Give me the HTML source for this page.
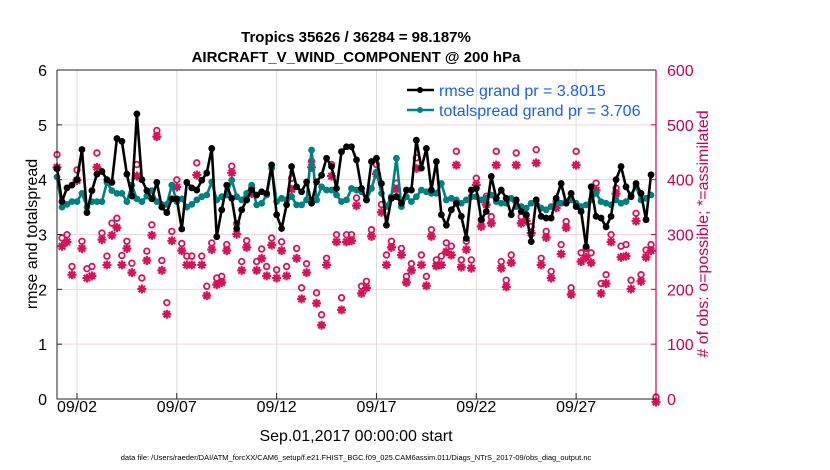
<!DOCTYPE html>
<html><head><meta charset="utf-8">
<style>
html,body{margin:0;padding:0;background:#fff;}
svg{display:block;font-family:"Liberation Sans",Arial,sans-serif;}
</style></head>
<body>
<svg id="chart" width="830" height="470" viewBox="0 0 830 470">
<text x="356" y="42" text-anchor="middle" font-size="15" font-weight="bold">Tropics 35626 / 36284 = 98.187%</text>
<text x="356" y="62" text-anchor="middle" font-size="15" font-weight="bold">AIRCRAFT_V_WIND_COMPONENT @ 200 hPa</text>
<g id="grid"></g>
<g id="obs"></g>
<g id="lines"></g>
<g id="axes"></g>
<text transform="translate(37,234) rotate(-90)" text-anchor="middle" font-size="16">rmse and totalspread</text>
<text transform="translate(708,234) rotate(-90)" text-anchor="middle" font-size="16" fill="#cc0052"># of obs: o=possible; *=assimilated</text>
<text x="356" y="441" text-anchor="middle" font-size="16">Sep.01,2017 00:00:00 start</text>
<text x="356" y="460" text-anchor="middle" font-size="7.5">data file: /Users/raeder/DAI/ATM_forcXX/CAM6_setup/f.e21.FHIST_BGC.f09_025.CAM6assim.011/Diags_NTrS_2017-09/obs_diag_output.nc</text>
<g>
<line x1="407" y1="90" x2="434" y2="90" stroke="#000" stroke-width="2.5"/>
<circle cx="420" cy="90" r="3" fill="#000"/>
<text x="439" y="96" font-size="16" fill="#1a5fe8">rmse grand pr = 3.8015</text>
<line x1="407" y1="110" x2="434" y2="110" stroke="#008080" stroke-width="2.5"/>
<circle cx="420" cy="110" r="3" fill="#008080"/>
<text x="439" y="116" font-size="16" fill="#1a5fe8">totalspread grand pr = 3.706</text>
</g>
</svg>
<script>
const xTickLabels = ["09/02","09/07","09/12","09/17","09/22","09/27"];
const xTickDays = [1,6,11,16,21,26];
const yTicksLeft = [0,1,2,3,4,5,6];
const yTicksRight = [0,100,200,300,400,500,600];
const rmse = [4.2,3.6,3.85,3.9,4.0,4.55,3.4,3.8,4.1,4.15,4.0,3.95,4.75,4.7,4.1,3.7,5.2,4.0,3.8,3.65,3.95,3.5,3.4,3.65,3.65,3.1,3.95,3.85,
3.81,3.99,4.12,4.57,2.96,3.45,3.9,3.66,3.11,3.45,3.63,3.81,3.72,3.78,3.75,4.27,3.36,3.11,3.54,4.24,3.87,3.78,3.96,3.57,3.96,4.08,4.39,4.24,3.84,4.51,4.6,
4.6,4.36,3.84,3.63,4.33,4.39,3.93,3.17,3.66,3.69,3.57,3.81,3.81,4.72,4.21,4.57,3.81,4.33,3.36,3.17,3.45,3.57,3.33,2.93,3.81,3.84,3.27,3.42,4.06,3.66,
3.81,3.66,3.36,3.63,3.42,3.36,2.87,3.63,3.33,3.3,3.3,3.66,3.93,3.57,3.75,3.51,3.42,2.78,3.87,3.33,3.3,3.14,3.33,4.0,4.24,3.87,3.69,3.93,3.75,3.27,4.09];
const spread = [4.05,3.5,3.55,3.6,3.6,3.75,3.5,3.6,3.6,3.6,3.95,3.8,3.75,3.75,3.6,3.9,3.65,3.6,3.7,3.8,3.6,3.55,3.55,3.9,3.6,3.65,3.5,3.55,
3.63,3.69,3.72,3.96,3.63,3.69,3.72,3.99,3.69,3.63,3.75,3.9,3.54,3.57,3.72,4.21,3.6,3.66,3.63,3.69,3.54,3.54,3.63,4.54,3.63,3.87,3.81,3.81,3.72,3.6,3.63,
3.84,3.81,3.78,3.63,3.84,4.14,3.75,3.51,3.69,4.39,3.51,3.69,3.6,3.69,3.81,3.78,3.75,3.75,3.93,3.63,3.66,3.63,3.57,3.63,3.69,3.69,3.63,3.66,3.72,3.6,
3.57,3.57,3.66,3.51,3.51,3.48,3.57,3.63,3.48,3.45,3.51,3.6,3.57,3.6,3.63,3.57,3.51,3.54,3.63,3.75,3.6,3.57,3.54,3.63,3.57,3.6,3.72,3.87,3.63,3.66,3.72];
const obsPossible = [442,290,296,238,414,284,234,238,445,299,257,317,326,258,284,244,424,217,266,314,486,249,172,302,396,280,257,257,427,257,
202,281,217,220,278,421,316,247,285,381,247,270,238,290,232,283,238,399,271,199,243,430,190,150,253,424,296,181,296,
296,363,202,211,305,424,351,259,284,390,271,220,243,436,259,220,305,250,257,281,275,448,250,284,250,399,323,366,329,448,247,
213,259,445,329,332,311,451,253,302,229,357,278,320,199,448,263,271,263,390,207,223,296,381,275,278,213,335,223,268,278,0];
const obsAssim = [428,284,292,232,404,280,226,230,428,296,250,304,318,250,280,236,412,206,258,304,484,240,160,294,392,276,250,250,414,250,
194,278,214,218,276,418,306,240,282,380,240,262,230,286,226,276,230,388,262,188,236,428,180,140,250,412,292,168,292,
294,358,198,208,302,416,346,250,282,388,268,218,240,426,250,212,302,248,250,274,268,432,246,278,244,396,320,360,326,432,244,
210,254,432,326,330,308,436,250,300,226,354,270,318,196,432,256,264,254,386,198,216,292,380,264,266,206,330,220,264,276,0];

const NS="http://www.w3.org/2000/svg";
const L=57,R=656,T=70,B=399;
const xDay=d=>L+(R-L)*d/30;
const yL=v=>B-(B-T)*v/6;
const yR=v=>B-(B-T)*v/600;
const dayOf=i=>i*0.25;
function mk(tag,attrs,parent){const e=document.createElementNS(NS,tag);for(const k in attrs)e.setAttribute(k,attrs[k]);parent.appendChild(e);return e;}
const grid=document.getElementById('grid'),axes=document.getElementById('axes'),obsG=document.getElementById('obs'),lines=document.getElementById('lines');

yTicksLeft.forEach(v=>{if(v>0&&v<6){const g=mk('line',{x1:L,x2:R,y1:yL(v),y2:yL(v),stroke:'#f3d3df','stroke-width':1},grid);

}
const t=mk('text',{x:L-10,y:yL(v)+6,'text-anchor':'end','font-size':16},axes);t.textContent=v;


const tk=mk('line',{x1:L,x2:L+5,y1:yL(v),y2:yL(v),stroke:'#222'},axes);

});
yTicksRight.forEach(v=>{const t=mk('text',{x:R+11,y:yR(v)+6,'font-size':16,fill:'#cc0052'},axes);t.textContent=v;


const tk=mk('line',{x1:R-5,x2:R,y1:yR(v),y2:yR(v),stroke:'#cc0052'},axes);

});
xTickDays.forEach((d,i)=>{const g=mk('line',{x1:xDay(d),x2:xDay(d),y1:T,y2:B,stroke:'#dcdcdc'},grid);


const tk=mk('line',{x1:xDay(d),x2:xDay(d),y1:B,y2:B-6,stroke:'#222'},axes);


const t=mk('text',{x:xDay(d),y:B+13,'text-anchor':'middle','font-size':16},axes);t.textContent=xTickLabels[i];

});
const bl=mk('path',{d:`M${L},${T}H${R}M${L},${T}V${B}H${R}`,stroke:'#222',fill:'none','stroke-width':1},axes);


const ra=mk('line',{x1:R,x2:R,y1:T,y2:B,stroke:'#cc0052','stroke-width':1.2},axes);



const C='#d4145a';
obsAssim.forEach((v,i)=>{const x=xDay(dayOf(i)),y=yR(v)+3;
const s=mk('path',{d:`M${x-4.5},${y}H${x+4.5}M${x},${y-4.5}V${y+4.5}M${x-3.2},${y-3.2}L${x+3.2},${y+3.2}M${x-3.2},${y+3.2}L${x+3.2},${y-3.2}`,stroke:C,'stroke-width':2.2,fill:'none'},obsG);


const d=mk('circle',{cx:x,cy:y,r:2.8,fill:C},obsG);

});
obsPossible.forEach((v,i)=>{const c=mk('circle',{cx:xDay(dayOf(i)),cy:yR(v)-2,r:2.8,fill:'none',stroke:C,'stroke-width':1.8},obsG);

});

function series(arr,color,name){
const p=mk('polyline',{points:arr.map((v,i)=>xDay(dayOf(i))+','+yL(v)).join(' '),fill:'none',stroke:color,'stroke-width':2.6,'stroke-linejoin':'round'},lines);


arr.forEach((v,i)=>{const c=mk('circle',{cx:xDay(dayOf(i)),cy:yL(v),r:3.4,fill:color},lines);

});}
series(spread,'#008080','totalspread');
series(rmse,'#000000','rmse');
</script>
</body></html>
